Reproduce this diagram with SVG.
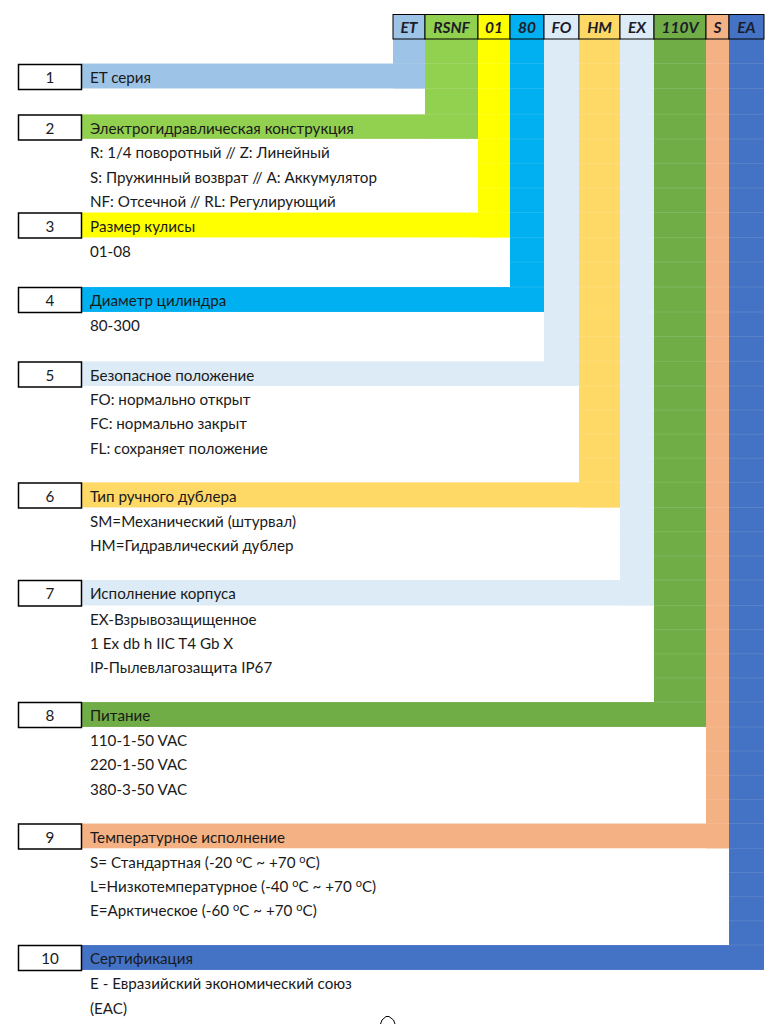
<svg xmlns="http://www.w3.org/2000/svg" width="784" height="1024" viewBox="0 0 784 1024">
<style>
  .t{font-family:Lato,"Liberation Sans",sans-serif;font-size:15.2px;fill:#1a1a1a}
  .n{font-family:Lato,"Liberation Sans",sans-serif;font-size:15.2px;fill:#1a1a1a;text-anchor:middle}
  .h{font-family:Lato,"Liberation Sans",sans-serif;font-size:15.5px;font-weight:bold;font-style:italic;fill:#1c1c28;text-anchor:middle}
  .sup{font-size:11px}
  .box{fill:#ffffff;stroke:#000;stroke-width:1.5}
  .hc{stroke:#000;stroke-width:1}
  .grid{stroke:#ffffff;stroke-opacity:0.14;stroke-width:0.8}
  .c1{fill:#9DC3E6}.c2{fill:#92D050}.c3{fill:#FFFF00}.c4{fill:#00B0F0}.c5{fill:#DDEBF7}
  .c6{fill:#FFD966}.c7{fill:#DDEBF7}.c8{fill:#70AD47}.c9{fill:#F4B183}.c10{fill:#4472C4}
</style>
<rect width="784" height="1024" fill="#ffffff"/>

<g id="connectors">
  <rect class="c1" x="393" y="39" width="32" height="49.5"/>
  <rect class="c2" x="425" y="39" width="53" height="99.9"/>
  <rect class="c3" x="478" y="39" width="32" height="198.5"/>
  <rect class="c4" x="510" y="39" width="34" height="273"/>
  <rect class="c5" x="544" y="39" width="35" height="347"/>
  <rect class="c6" x="579" y="39" width="41" height="468.5"/>
  <rect class="c7" x="620" y="39" width="34" height="566.5"/>
  <rect class="c8" x="654" y="39" width="52" height="688"/>
  <rect class="c9" x="706" y="39" width="23" height="809.3"/>
  <rect class="c10" x="729" y="39" width="35" height="931"/>
  <rect class="c1" x="82" y="63.5" width="343" height="25"/>
  <rect class="c2" x="82" y="114.3" width="396" height="24.6"/>
  <rect class="c3" x="82" y="212.5" width="428" height="25"/>
  <rect class="c4" x="82" y="287" width="462" height="25"/>
  <rect class="c5" x="82" y="361.3" width="497" height="24.7"/>
  <rect class="c6" x="82" y="482.3" width="538" height="25.2"/>
  <rect class="c7" x="82" y="580" width="572" height="25.5"/>
  <rect class="c8" x="82" y="702" width="624" height="25"/>
  <rect class="c9" x="82" y="823.5" width="647" height="24.8"/>
  <rect class="c10" x="82" y="945" width="682" height="25"/>
  <g class="grid">
    <line x1="82" y1="63.5" x2="764" y2="63.5"/>
    <line x1="82" y1="88.5" x2="764" y2="88.5"/>
    <line x1="82" y1="114.3" x2="764" y2="114.3"/>
    <line x1="82" y1="138.9" x2="764" y2="138.9"/>
    <line x1="82" y1="163.4" x2="764" y2="163.4"/>
    <line x1="82" y1="188" x2="764" y2="188"/>
    <line x1="82" y1="212.5" x2="764" y2="212.5"/>
    <line x1="82" y1="237.5" x2="764" y2="237.5"/>
    <line x1="82" y1="262" x2="764" y2="262"/>
    <line x1="82" y1="287" x2="764" y2="287"/>
    <line x1="82" y1="312" x2="764" y2="312"/>
    <line x1="82" y1="336.5" x2="764" y2="336.5"/>
    <line x1="82" y1="361.3" x2="764" y2="361.3"/>
    <line x1="82" y1="386" x2="764" y2="386"/>
    <line x1="82" y1="410.1" x2="764" y2="410.1"/>
    <line x1="82" y1="434.2" x2="764" y2="434.2"/>
    <line x1="82" y1="458.2" x2="764" y2="458.2"/>
    <line x1="82" y1="482.3" x2="764" y2="482.3"/>
    <line x1="82" y1="507.5" x2="764" y2="507.5"/>
    <line x1="82" y1="531.7" x2="764" y2="531.7"/>
    <line x1="82" y1="555.9" x2="764" y2="555.9"/>
    <line x1="82" y1="580" x2="764" y2="580"/>
    <line x1="82" y1="605.5" x2="764" y2="605.5"/>
    <line x1="82" y1="629.6" x2="764" y2="629.6"/>
    <line x1="82" y1="653.8" x2="764" y2="653.8"/>
    <line x1="82" y1="677.9" x2="764" y2="677.9"/>
    <line x1="82" y1="702" x2="764" y2="702"/>
    <line x1="82" y1="727" x2="764" y2="727"/>
    <line x1="82" y1="751.1" x2="764" y2="751.1"/>
    <line x1="82" y1="775.3" x2="764" y2="775.3"/>
    <line x1="82" y1="799.4" x2="764" y2="799.4"/>
    <line x1="82" y1="823.5" x2="764" y2="823.5"/>
    <line x1="82" y1="848.3" x2="764" y2="848.3"/>
    <line x1="82" y1="872.5" x2="764" y2="872.5"/>
    <line x1="82" y1="896.7" x2="764" y2="896.7"/>
    <line x1="82" y1="920.8" x2="764" y2="920.8"/>
    <line x1="82" y1="945" x2="764" y2="945"/>
    <line x1="82" y1="970" x2="764" y2="970"/>
  </g>
</g>

<g id="header">
  <rect class="c1 hc" x="393" y="14.5" width="32" height="24.5"/>
  <rect class="c2 hc" x="425" y="14.5" width="53" height="24.5"/>
  <rect class="c3 hc" x="478" y="14.5" width="32" height="24.5"/>
  <rect class="c4 hc" x="510" y="14.5" width="34" height="24.5"/>
  <rect class="c5 hc" x="544" y="14.5" width="35" height="24.5"/>
  <rect class="c6 hc" x="579" y="14.5" width="41" height="24.5"/>
  <rect class="c7 hc" x="620" y="14.5" width="34" height="24.5"/>
  <rect class="c8 hc" x="654" y="14.5" width="52" height="24.5"/>
  <rect class="c9 hc" x="706" y="14.5" width="23" height="24.5"/>
  <rect class="c10 hc" x="729" y="14.5" width="35" height="24.5"/>
  <text class="h" x="409" y="33.3">ET</text>
  <text class="h" x="451.5" y="33.3">RSNF</text>
  <text class="h" x="494" y="33.3">01</text>
  <text class="h" x="527" y="33.3">80</text>
  <text class="h" x="561.5" y="33.3">FO</text>
  <text class="h" x="599.5" y="33.3">HM</text>
  <text class="h" x="637" y="33.3">EX</text>
  <text class="h" x="680" y="33.3">110V</text>
  <text class="h" x="717.5" y="33.3">S</text>
  <text class="h" x="746.5" y="33.3">EA</text>
</g>

<g id="row1">
  <rect class="box" x="18.5" y="64.5" width="63" height="25"/>
  <text class="n" x="50" y="83">1</text>
  <text class="t" x="90" y="83">ET серия</text>
</g>
<g id="row2">
  <rect class="box" x="18.5" y="115" width="63" height="25"/>
  <text class="n" x="50" y="133.6">2</text>
  <text class="t" x="90" y="133.6">Электрогидравлическая конструкция</text>
  <text class="t" x="90" y="158.2">R: 1/4 поворотный // Z: Линейный</text>
  <text class="t" x="90" y="182.7">S: Пружинный возврат // A: Аккумулятор</text>
  <text class="t" x="90" y="207.2">NF: Отсечной // RL: Регулирующий</text>
</g>
<g id="row3">
  <rect class="box" x="18.5" y="213" width="63" height="25"/>
  <text class="n" x="50" y="231.8">3</text>
  <text class="t" x="90" y="231.8">Размер кулисы</text>
  <text class="t" x="90" y="256.8">01-08</text>
</g>
<g id="row4">
  <rect class="box" x="18.5" y="287.5" width="63" height="25"/>
  <text class="n" x="50" y="306.3">4</text>
  <text class="t" x="90" y="306.3">Диаметр цилиндра</text>
  <text class="t" x="90" y="331.3">80-300</text>
</g>
<g id="row5">
  <rect class="box" x="18.5" y="362" width="63" height="25"/>
  <text class="n" x="50" y="380.6">5</text>
  <text class="t" x="90" y="380.6">Безопасное положение</text>
  <text class="t" x="90" y="405.3">FO: нормально открыт</text>
  <text class="t" x="90" y="429.4">FC: нормально закрыт</text>
  <text class="t" x="90" y="453.5">FL: сохраняет положение</text>
</g>
<g id="row6">
  <rect class="box" x="18.5" y="483" width="63" height="25"/>
  <text class="n" x="50" y="501.6">6</text>
  <text class="t" x="90" y="501.6">Тип ручного дублера</text>
  <text class="t" x="90" y="526.8">SM=Механический (штурвал)</text>
  <text class="t" x="90" y="551">HM=Гидравлический дублер</text>
</g>
<g id="row7">
  <rect class="box" x="18.5" y="580.5" width="63" height="25.5"/>
  <text class="n" x="50" y="599.3">7</text>
  <text class="t" x="90" y="599.3">Исполнение корпуса</text>
  <text class="t" x="90" y="624.8">EX-Взрывозащищенное</text>
  <text class="t" x="90" y="648.9">1 Ex db h IIC T4 Gb X</text>
  <text class="t" x="90" y="673.1">IP-Пылевлагозащита IP67</text>
</g>
<g id="row8">
  <rect class="box" x="18.5" y="702.5" width="63" height="25"/>
  <text class="n" x="50" y="721.3">8</text>
  <text class="t" x="90" y="721.3">Питание</text>
  <text class="t" x="90" y="746.3">110-1-50 VAC</text>
  <text class="t" x="90" y="770.4">220-1-50 VAC</text>
  <text class="t" x="90" y="794.6">380-3-50 VAC</text>
</g>
<g id="row9">
  <rect class="box" x="18.5" y="824" width="63" height="25"/>
  <text class="n" x="50" y="842.8">9</text>
  <text class="t" x="90" y="842.8">Температурное исполнение</text>
  <text class="t" x="90" y="867.6">S= Стандартная (-20 <tspan class="sup" dy="-5">o</tspan><tspan dy="5">C ~ +70 </tspan><tspan class="sup" dy="-5">o</tspan><tspan dy="5">C)</tspan></text>
  <text class="t" x="90" y="891.8">L=Низкотемпературное (-40 <tspan class="sup" dy="-5">o</tspan><tspan dy="5">C ~ +70 </tspan><tspan class="sup" dy="-5">o</tspan><tspan dy="5">C)</tspan></text>
  <text class="t" x="90" y="916">E=Арктическое (-60 <tspan class="sup" dy="-5">o</tspan><tspan dy="5">C ~ +70 </tspan><tspan class="sup" dy="-5">o</tspan><tspan dy="5">C)</tspan></text>
</g>
<g id="row10">
  <rect class="box" x="18.5" y="945.5" width="63" height="25"/>
  <text class="n" x="50" y="964.3">10</text>
  <text class="t" x="90" y="964.3">Сертификация</text>
  <text class="t" x="90" y="989.3">E - Евразийский экономический союз</text>
  <text class="t" x="90" y="1013.8">(EAC)</text>
</g>
<path d="M380.5,1024 L382,1020 L386,1016.5 L389,1016.5 L393.5,1020 L395,1024" fill="none" stroke="#000" stroke-width="1"/>
</svg>
